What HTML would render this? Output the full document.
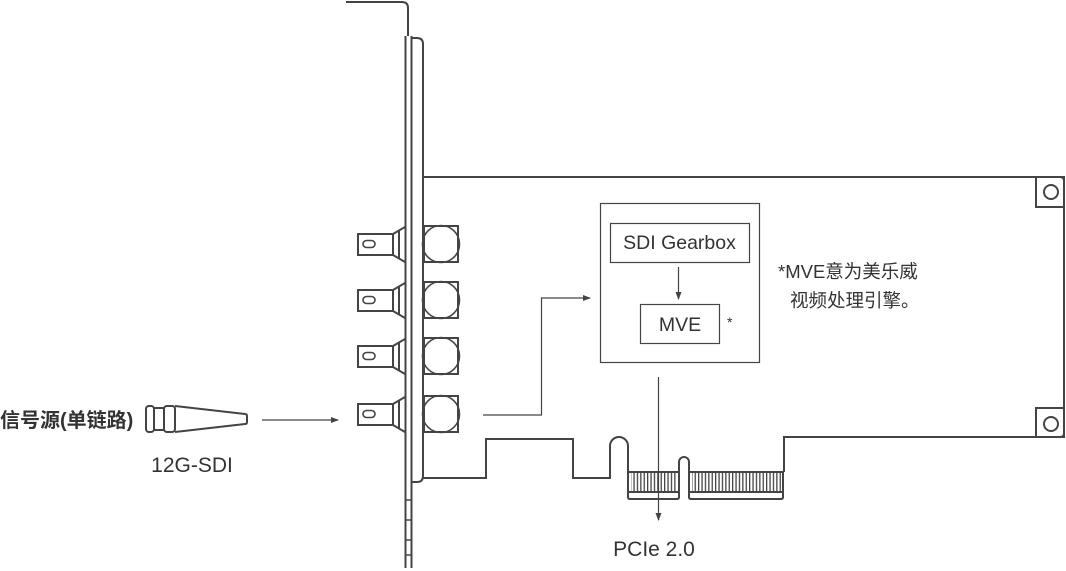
<!DOCTYPE html>
<html><head><meta charset="utf-8"><style>
html,body{margin:0;padding:0;background:#fff;}
svg{display:block;}
text{font-family:"Liberation Sans","Noto Sans CJK SC",sans-serif;fill:#333;}
</style></head><body>
<svg width="1066" height="571" viewBox="0 0 1066 571" xmlns="http://www.w3.org/2000/svg">
<defs>
<marker id="ah" markerWidth="8" markerHeight="8" refX="7" refY="4" orient="auto" markerUnits="userSpaceOnUse">
<path d="M0,1 L8,4 L0,7 Z" fill="#444"/>
</marker>
<pattern id="fp" x="630" y="0" width="3.4" height="10" patternUnits="userSpaceOnUse">
<rect x="0" y="0" width="1.3" height="10" fill="#444"/>
</pattern>
</defs>
<rect x="631" y="473" width="46" height="18" fill="url(#fp)"/>
<rect x="692" y="473" width="89" height="18" fill="url(#fp)"/>
<g fill="none" stroke="#444" stroke-width="2">
<!-- bracket -->
<path d="M346,2 H402 Q408,2 408,8 V36"/>
<line x1="405.5" y1="36" x2="405.5" y2="568"/>
<line x1="411.5" y1="36" x2="411.5" y2="568"/>
<path d="M412,38 H417 Q423,38 423,44 V476 Q423,482 417,482 H412"/>
<g stroke-width="1.5">
<line x1="405" y1="500" x2="411" y2="500"/>
<line x1="405" y1="520" x2="411" y2="520"/>
<line x1="405" y1="540" x2="411" y2="540"/>
<line x1="405" y1="555" x2="411" y2="555"/>
</g>
<!-- board -->
<path d="M423,177 H1060 Q1064,177 1064,181 V433 Q1064,437 1060,437 H784 V472"/>
<path d="M423,478 H486 V439 H573 V478 H610 V446 A9,9 0 0 1 628,446 V492"/>
<rect x="1036" y="177" width="28" height="30"/>
<circle cx="1051" cy="192" r="7"/>
<rect x="1036" y="408" width="28" height="29"/>
<circle cx="1051" cy="424" r="7"/>
<!-- fingers -->
<path d="M628,472 H679 V462 A5,5 0 0 1 689,462 V472 H783"/>
<line x1="628" y1="492" x2="679" y2="492"/>
<line x1="689" y1="492" x2="783" y2="492"/>
<path d="M628,492 V497 Q628,499 630,499 H677 Q679,499 679,497 V472"/>
<path d="M689,472 V497 Q689,499 691,499 H781 Q783,499 783,497 V472"/>
</g>
<!-- connectors -->
<g fill="none" stroke="#444" stroke-width="2">
<g id="c1">
<rect x="358" y="234" width="35" height="21"/>
<rect x="363" y="240.5" width="12" height="7" rx="3.5" stroke-width="1.6"/>
<path d="M393,234 L405,227 M393,255 L405,262"/>
<line x1="399" y1="231" x2="399" y2="258"/>
<rect x="424" y="226" width="34" height="36"/>
<circle cx="441" cy="244" r="18.5" stroke-width="1.6"/>
</g>
<use href="#c1" y="56"/>
<use href="#c1" y="112"/>
<use href="#c1" y="170"/>
<!-- cable -->
<rect x="146" y="406" width="8" height="26" rx="3"/>
<rect x="154" y="408" width="10" height="22"/>
<rect x="164" y="406" width="11" height="26" rx="3"/>
<path d="M175,406 L245,414 Q247,414 247,416 V422 Q247,424 245,424 L175,432"/>
</g>
<!-- blocks -->
<g fill="none" stroke="#444" stroke-width="1.2">
<rect x="600.5" y="203.5" width="159" height="159"/>
<rect x="610.5" y="223.5" width="139" height="39"/>
<rect x="640.5" y="304.5" width="79" height="39"/>
<line x1="678.5" y1="267" x2="678.5" y2="299" marker-end="url(#ah)"/>
<polyline points="483,415 541.5,415 541.5,298 590,298" marker-end="url(#ah)"/>
<line x1="262" y1="420" x2="338" y2="420" marker-end="url(#ah)"/>
<line x1="658.5" y1="377" x2="658.5" y2="520" marker-end="url(#ah)"/>
</g>
<text x="679.5" y="249" font-size="19.5" text-anchor="middle">SDI Gearbox</text>
<text x="680" y="331" font-size="19.5" text-anchor="middle">MVE</text>
<text x="727" y="327" font-size="14">*</text>
<text x="778" y="278" font-size="18.5">*MVE意为美乐威</text>
<text x="790" y="307" font-size="18.5">视频处理引擎。</text>
<text x="0" y="427" font-size="20" font-weight="bold" fill="#333">信号源(单链路)</text>
<text x="192" y="472" font-size="21" text-anchor="middle">12G-SDI</text>
<text x="654" y="556" font-size="21" text-anchor="middle">PCIe 2.0</text>
</svg>
</body></html>
